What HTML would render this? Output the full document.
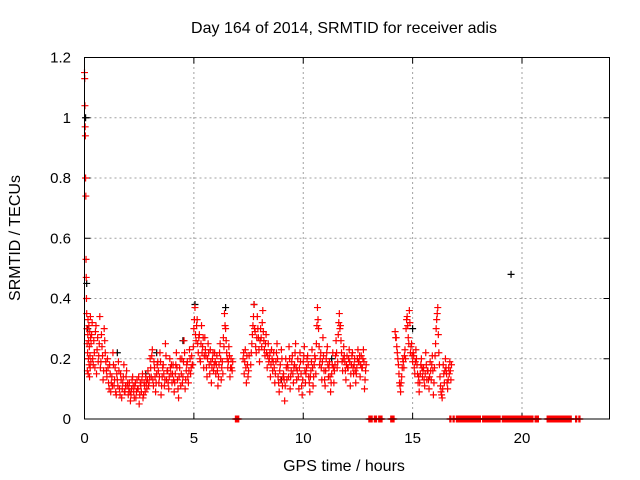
<!DOCTYPE html>
<html><head><meta charset="utf-8"><style>
body{margin:0;background:#fff;}
svg{display:block;font-family:"Liberation Sans",sans-serif;}
</style></head><body>
<svg id="chart" width="640" height="480" viewBox="0 0 640 480" xmlns="http://www.w3.org/2000/svg">
<rect width="640" height="480" fill="#fff"/>
<text x="344" y="33" font-size="16" text-anchor="middle" fill="#000">Day 164 of 2014, SRMTID for receiver adis</text>
<text x="344" y="471" font-size="16" text-anchor="middle" fill="#000">GPS time / hours</text>
<text transform="translate(20,238) rotate(-90)" font-size="16" text-anchor="middle" fill="#000">SRMTID / TECUs</text>
<g id="grid"></g><g id="ticks"></g><g id="marks"></g>
<rect x="84.5" y="57.5" width="525" height="361.5" fill="none" stroke="#000" stroke-width="1"/>
</svg>
<script>
const xTicks=[0,5,10,15,20];
const yTicks=[0,0.2,0.4,0.6,0.8,1,1.2];
const yTickLabels=["0","0.2","0.4","0.6","0.8","1","1.2"];
const seg0Start=0, seg0Step=0.01;
const seg0Vals=[115,113,104,97,94,80,74,53,47,40,35,30,25,16,22,28,33,15,20,26,31,18,24,14,29,21,17,34,27,19];
const segStarts=[0.3,7.25,7.6,14.2];
const segStep=0.05;
const segA=[25,32,18,22,29,15,27,21,34,19,24,13,30,22,
16,20,12,18,9,14,22,11,17,8,13,19,10,15,7,12,18,9,14,11,
8,12,6,10,14,9,11,7,13,10,5,12,9,15,8,11,14,10,16,12,
20,14,23,11,17,9,15,19,12,22,8,14,18,11,25,13,16,10,20,15,
12,18,9,15,22,13,7,17,11,20,14,26,10,16,19,12,23,15,21,18,
30,37,26,33,22,28,19,31,24,17,27,21,14,25,18,23,12,20,16,22,
15,21,11,18,25,13,19,27,35,30,22,17,24,14,20,16];
const segB=[20,15,23,12,18,16];
const segC=[18,25,31,38,29,22,34,27,19,30,24,36,26,21,28,17,25,20,14,23,
16,22,12,19,25,14,9,18,23,11,15,6,20,13,17,24,10,16,21,12,
18,25,13,20,10,22,15,8,19,24,12,17,21,14,9,16,23,11,18,20,
25,37,30,18,22,13,27,16,11,20,24,14,19,9,15,22,12,18,26,17,
28,35,31,22,16,24,19,13,21,17,23,11,18,22,15,20,12,17,23,19,
14,21,17,23,10,16];
const segD=[29,27,22,18,12,9,14,20,17,23,
30,34,27,36,22,25,19,21,15,23,
18,12,9,15,20,14,17,11,22,13,
16,10,19,13,21,8,17,25,33,37,
22,14,9,7,18,12,20,15,10,17,19,13];
// second interleaved pass (offset half step)
const segA2=[28,20,26,17,31,23,19,25,17,28,21,16,26,19,
14,17,10,15,12,11,18,13,9,15,11,16,8,13,10,14,9,11,16,12,
10,9,8,13,11,7,12,9,10,14,8,11,13,7,12,9,12,13,11,14,
17,21,13,19,14,12,18,16,14,19,11,17,15,13,21,16,12,14,17,18,
15,13,12,18,17,10,14,20,15,12,19,22,13,18,14,16,20,17,18,24,
33,28,31,25,27,20,25,22,27,21,23,17,20,22,15,19,17,22,18,19,
18,16,14,22,20,17,15,24,31,26,20,19,21,17,17,19];
const segB2=[22,19,17,21,14,21];
const segC2=[22,28,34,30,24,27,30,23,26,27,32,29,23,25,22,21,19,22,18,20,
19,17,15,22,20,12,16,13,20,14,13,11,17,18,14,20,14,19,15,17,
22,17,16,14,17,19,11,13,21,16,15,20,18,12,14,19,17,14,21,15,
31,33,24,20,17,19,21,13,16,22,18,17,14,12,18,17,16,21,22,19,
32,30,26,19,20,21,16,18,17,20,19,15,21,17,18,16,15,20,19,21,
18,17,20,19,13,18];
const segD2=[27,24,20,15,11,12,17,19,21,20,
33,31,25,32,24,21,22,17,19,20,
15,14,12,18,17,16,13,15,18,16,
13,14,16,18,16,12,21,30,35,28,
18,11,8,10,15,16,17,12,13,15,16,18];
const zeroRanges=[[6.9,7.05],[13.0,13.15],[13.25,13.35],[13.45,13.6],[14.0,14.15],[16.7,16.75],[16.85,16.9],[17.0,18.1],[18.2,19.0],[19.1,20.5],[20.6,20.75],[21.15,22.25],[22.45,22.5],[22.6,22.65]];
const blackX=[0.05,0.1,0.15,1.5,2.8,3.3,4.5,5.05,6.45,7.75,9.0,11.3,15.0,19.5];
const blackY=[1.0,0.45,0.3,0.22,0.15,0.22,0.26,0.38,0.37,0.38,0.13,0.2,0.3,0.48];

const X0=84.5,X1=609.5,Y0=419,Y1=57.5;
const sx=h=>X0+(h/24)*(X1-X0);
const sy=v=>Y0-(v/1.2)*(Y0-Y1);
const NS="http://www.w3.org/2000/svg";
const grid=document.getElementById('grid'),ticks=document.getElementById('ticks'),marks=document.getElementById('marks');
function mk(tag,attrs,parent){const e=document.createElementNS(NS,tag);for(const k in attrs)e.setAttribute(k,attrs[k]);parent.appendChild(e);return e;}
xTicks.forEach(t=>{const x=sx(t);
 if(t>0){const g=mk('line',{x1:x,x2:x,y1:Y0,y2:Y1,stroke:'#a0a0a0','stroke-dasharray':'2,3'},grid);
 
 }
 const a=mk('line',{x1:x,x2:x,y1:Y0,y2:Y0-6,stroke:'#000'},ticks);
 
 
 const b=mk('line',{x1:x,x2:x,y1:Y1,y2:Y1+6,stroke:'#000'},ticks);
 
 
 const l=mk('text',{x:x,y:443,'font-size':15,'text-anchor':'middle',fill:'#000'},ticks);l.textContent=String(t);
 
 
});
yTicks.forEach((t,i)=>{const y=sy(t);
 if(t>0&&t<1.2){const g=mk('line',{x1:X0,x2:X1,y1:y,y2:y,stroke:'#a0a0a0','stroke-dasharray':'2,3'},grid);
 
 }
 const a=mk('line',{x1:X0,x2:X0+6,y1:y,y2:y,stroke:'#000'},ticks);
 
 
 const b=mk('line',{x1:X1,x2:X1-6,y1:y,y2:y,stroke:'#000'},ticks);
 
 
 const l=mk('text',{x:71,y:y+5,'font-size':15,'text-anchor':'end',fill:'#000'},ticks);l.textContent=yTickLabels[i];
 
 
});
function plus(h,v,color,name){const x=sx(h),y=sy(v);
 const p=mk('path',{d:`M${x-3.5},${y}H${x+3.5}M${x},${y-3.5}V${y+3.5}`,stroke:color,'stroke-width':1.2,fill:'none'},marks);
 
 
}
blackX.forEach((h,i)=>plus(h,blackY[i],'#000','black-point'));
seg0Vals.forEach((v,i)=>plus(seg0Start+i*seg0Step,v/100,'#f00','red-point'));
[segA,segB,segC,segD].forEach((seg,s)=>seg.forEach((v,i)=>plus(segStarts[s]+i*segStep,v/100,'#f00','red-point')));
[segA2,segB2,segC2,segD2].forEach((seg,s)=>seg.forEach((v,i)=>plus(segStarts[s]+(i+0.5)*segStep,v/100,'#f00','red-point')));
zeroRanges.forEach(r=>{for(let h=r[0];h<=r[1]+1e-6;h+=0.025)plus(h,0,'#f00','zero-point');});
</script>
</body></html>
